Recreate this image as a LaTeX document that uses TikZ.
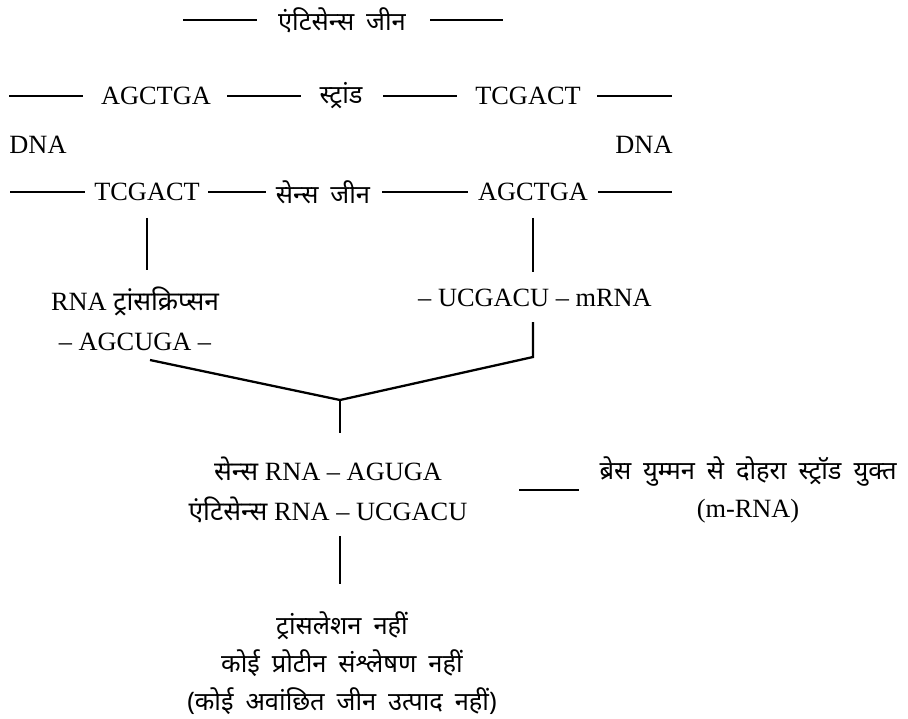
\documentclass[tikz,border=0pt]{standalone}
\usepackage{fontspec}
\setmainfont{Liberation Serif}
\newfontfamily\dev[Script=Devanagari,WordSpace=1.8]{Noto Sans}
\usetikzlibrary{positioning}

\begin{document}
\begin{tikzpicture}[x=0.02cm,y=-0.02cm,line width=1.3pt,
	lat/.style={font=\fontsize{15}{22.7}\selectfont,inner sep=0pt,align=center},
	hin/.style={font=\fontsize{14.5}{21.5}\dev,inner sep=0pt,align=center},
	vert/.style={shorten <=9pt,shorten >=9pt}]
		\useasboundingbox (0,0) rectangle (908,718);
		% strands
		\node[hin] (antigene) at (342,20) {एंटिसेन्स जीन};
		\node[lat] (agc1) at (156,96) {AGCTGA};
		\node[hin] (strand) at (341,96) {स्ट्रांड};
		\node[lat] (tcg1) at (528,96) {TCGACT};
		\node[lat] (dnal) at (38,145) {DNA};
		\node[lat] (dnar) at (644,145) {DNA};
		\node[lat] (tcg2) at (147,192) {TCGACT};
		\node[hin] (sensegene) at (323,192) {सेन्स जीन};
		\node[lat] (agc2) at (533,192) {AGCTGA};
		\foreach \n/\a/\b/\y in {1/183/257/20, 2/430/503/20,
				3/9/83/96, 4/227/301/96, 5/383/457/96, 6/597/672/96,
				7/10/85/192, 8/208/266/192, 9/382/468/192, 10/598/672/192} {
			\coordinate (d\n a) at (\a,\y);
			\coordinate (d\n b) at (\b,\y);
			\draw (d\n a) -- (d\n b);
		}
		% transcripts
		\node[lat] (rnat) at (135,319) {RNA {\dev ट्रांसक्रिप्सन}\\– AGCUGA –};
		\node[lat] (mrna) at (535,298) {– UCGACU – mRNA};
		\draw[vert] (tcg2.south) -- (tcg2.south |- rnat.north);
		\draw[vert] (agc2.south) -- (agc2.south |- mrna.north);
		\coordinate (jn) at (340,400);
		\coordinate (rtop) at (533,322);
		\coordinate (rbot) at (533,357);
		\coordinate (lend) at (150,360);
		\draw (rtop) -- (rbot) -- (jn) -- (lend);
		% duplex
		\node[lat] (pair) at (328,490) {{\dev सेन्स} RNA – AGUGA\\{\dev एंटिसेन्स} RNA – UCGACU};
		\node[hin] (brace) at (748,490) {ब्रेस युम्मन से दोहरा स्ट्रॉड युक्त\\{\fontsize{15}{21.5}\rmfamily (m-RNA)}};
		\draw[shorten >=13pt] (jn) -- (jn |- pair.north);
		\draw[shorten <=29pt,shorten >=11pt] (pair.east) -- (pair.east -| brace.west);
		\node[hin] (noprot) at (342,663) {ट्रांसलेशन नहीं\\कोई प्रोटीन संश्लेषण नहीं\\(कोई अवांछित जीन उत्पाद नहीं)};
		\draw[vert,shorten <=7pt,shorten >=15pt] (jn |- pair.south) -- (jn |- noprot.north);
	\end{tikzpicture}
\end{document}
